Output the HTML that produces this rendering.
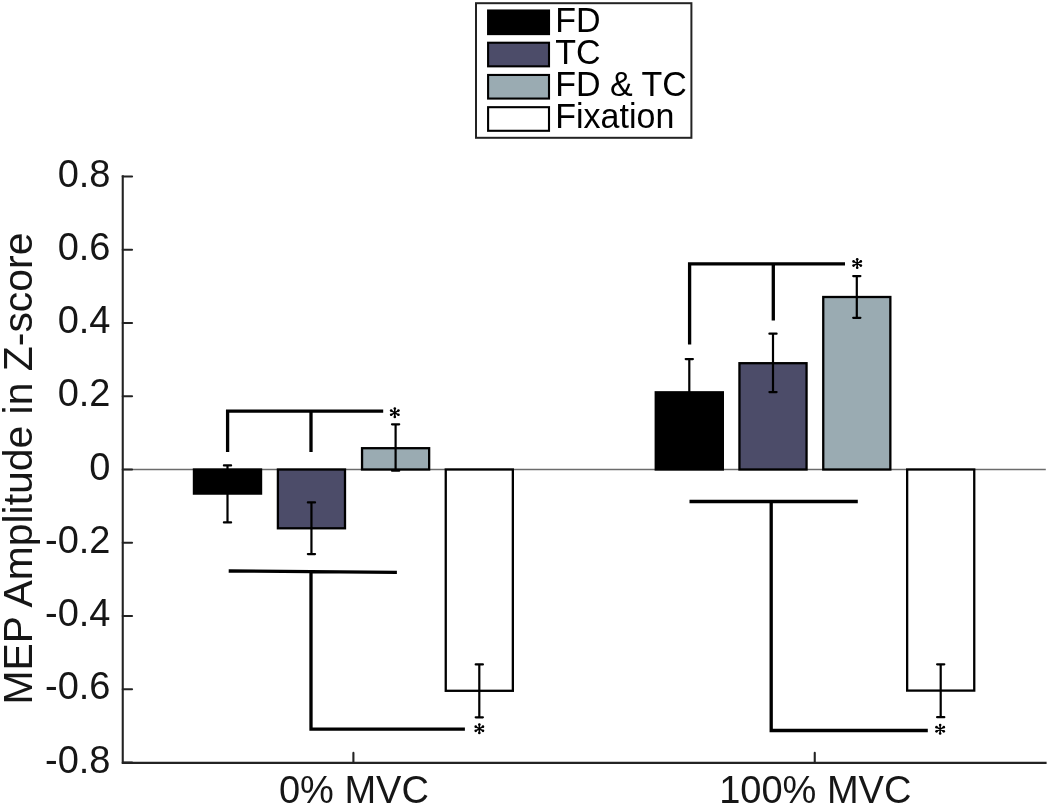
<!DOCTYPE html>
<html><head><meta charset="utf-8"><style>
html,body{margin:0;padding:0;background:#fff;width:1050px;height:806px;overflow:hidden;font-family:"Liberation Sans",sans-serif;}
</style></head><body>
<svg width="1050" height="806" viewBox="0 0 1050 806" style="position:absolute;left:0;top:0;will-change:transform">
<rect width="1050" height="806" fill="#fff"/>
<line x1="122.75" y1="469.5" x2="1045.8" y2="469.5" stroke="#6c6c6c" stroke-width="1.4"/>
<rect x="193.95" y="469.50" width="67.10" height="24.10" fill="#000000" stroke="#000" stroke-width="2.3"/>
<rect x="277.90" y="469.50" width="67.10" height="58.80" fill="#4c4c69" stroke="#000" stroke-width="2.3"/>
<rect x="362.05" y="448.20" width="67.10" height="21.30" fill="#9aabb2" stroke="#000" stroke-width="2.3"/>
<rect x="445.75" y="469.50" width="67.10" height="221.30" fill="#ffffff" stroke="#000" stroke-width="2.3"/>
<rect x="655.75" y="392.30" width="67.10" height="77.20" fill="#000000" stroke="#000" stroke-width="2.3"/>
<rect x="739.45" y="363.20" width="67.10" height="106.30" fill="#4c4c69" stroke="#000" stroke-width="2.3"/>
<rect x="823.25" y="297.00" width="67.10" height="172.50" fill="#9aabb2" stroke="#000" stroke-width="2.3"/>
<rect x="907.15" y="469.50" width="67.10" height="221.10" fill="#ffffff" stroke="#000" stroke-width="2.3"/>
<path d="M227.5 465.4 V522.4 M223.90 465.4 H231.10 M223.90 522.4 H231.10" stroke="#000" stroke-width="2.2" stroke-linecap="round" fill="none"/>
<path d="M311.45 502.4 V554.1 M307.85 502.4 H315.05 M307.85 554.1 H315.05" stroke="#000" stroke-width="2.2" stroke-linecap="round" fill="none"/>
<path d="M395.6 424.3 V470.7 M392.00 424.3 H399.20 M392.00 470.7 H399.20" stroke="#000" stroke-width="2.2" stroke-linecap="round" fill="none"/>
<path d="M479.3 664.4 V717.3 M475.70 664.4 H482.90 M475.70 717.3 H482.90" stroke="#000" stroke-width="2.2" stroke-linecap="round" fill="none"/>
<path d="M689.3 359.1 V424.0 M685.70 359.1 H692.90 M685.70 424.0 H692.90" stroke="#000" stroke-width="2.2" stroke-linecap="round" fill="none"/>
<path d="M773.0 333.7 V392.1 M769.40 333.7 H776.60 M769.40 392.1 H776.60" stroke="#000" stroke-width="2.2" stroke-linecap="round" fill="none"/>
<path d="M856.8 276.1 V317.8 M853.20 276.1 H860.40 M853.20 317.8 H860.40" stroke="#000" stroke-width="2.2" stroke-linecap="round" fill="none"/>
<path d="M940.7 664.3 V717.2 M937.10 664.3 H944.30 M937.10 717.2 H944.30" stroke="#000" stroke-width="2.2" stroke-linecap="round" fill="none"/>
<path d="M227.6 452.1 V411.1 H383.2 M311 411.1 V452.1" fill="none" stroke="#000" stroke-width="3.3" stroke-linejoin="miter" stroke-linecap="butt"/>
<path d="M228.7 571 L396.9 572.35 M311 571.7 V729.2 H464.9" fill="none" stroke="#000" stroke-width="3.3" stroke-linejoin="miter" stroke-linecap="butt"/>
<path d="M689.6 344.6 V263.8 H845 M773.3 263.8 V320.6" fill="none" stroke="#000" stroke-width="3.3" stroke-linejoin="miter" stroke-linecap="butt"/>
<path d="M689.5 501.5 H857.8 M771.2 501.5 V730.5 H927.8" fill="none" stroke="#000" stroke-width="3.3" stroke-linejoin="miter" stroke-linecap="butt"/>
<g fill="#000"><path d="M394.80 416.90 L394.80 408.50 M391.16 414.80 L398.44 410.60 M391.16 410.60 L398.44 414.80 " stroke="#000" stroke-width="1.55" stroke-linecap="round"/><circle cx="394.80" cy="408.50" r="1.3"/><circle cx="394.80" cy="416.90" r="1.3"/><circle cx="398.44" cy="410.60" r="1.3"/><circle cx="391.16" cy="414.80" r="1.3"/><circle cx="398.44" cy="414.80" r="1.3"/><circle cx="391.16" cy="410.60" r="1.3"/></g>
<g fill="#000"><path d="M479.35 732.95 L479.35 724.55 M475.71 730.85 L482.99 726.65 M475.71 726.65 L482.99 730.85 " stroke="#000" stroke-width="1.55" stroke-linecap="round"/><circle cx="479.35" cy="724.55" r="1.3"/><circle cx="479.35" cy="732.95" r="1.3"/><circle cx="482.99" cy="726.65" r="1.3"/><circle cx="475.71" cy="730.85" r="1.3"/><circle cx="482.99" cy="730.85" r="1.3"/><circle cx="475.71" cy="726.65" r="1.3"/></g>
<g fill="#000"><path d="M857.20 267.70 L857.20 259.30 M853.56 265.60 L860.84 261.40 M853.56 261.40 L860.84 265.60 " stroke="#000" stroke-width="1.55" stroke-linecap="round"/><circle cx="857.20" cy="259.30" r="1.3"/><circle cx="857.20" cy="267.70" r="1.3"/><circle cx="860.84" cy="261.40" r="1.3"/><circle cx="853.56" cy="265.60" r="1.3"/><circle cx="860.84" cy="265.60" r="1.3"/><circle cx="853.56" cy="261.40" r="1.3"/></g>
<g fill="#000"><path d="M940.15 733.45 L940.15 725.05 M936.51 731.35 L943.79 727.15 M936.51 727.15 L943.79 731.35 " stroke="#000" stroke-width="1.55" stroke-linecap="round"/><circle cx="940.15" cy="725.05" r="1.3"/><circle cx="940.15" cy="733.45" r="1.3"/><circle cx="943.79" cy="727.15" r="1.3"/><circle cx="936.51" cy="731.35" r="1.3"/><circle cx="943.79" cy="731.35" r="1.3"/><circle cx="936.51" cy="727.15" r="1.3"/></g>
<path d="M122.75 175.3 V762.85 H1046.6" fill="none" stroke="#232323" stroke-width="2.1"/>
<line x1="122.75" y1="176.46" x2="132.05" y2="176.46" stroke="#232323" stroke-width="2.1" stroke-linecap="round"/>
<text x="110.5" y="186.56" font-family="Liberation Sans" font-size="38" fill="#161616" text-anchor="end">0.8</text>
<line x1="122.75" y1="249.72" x2="132.05" y2="249.72" stroke="#232323" stroke-width="2.1" stroke-linecap="round"/>
<text x="110.5" y="259.82" font-family="Liberation Sans" font-size="38" fill="#161616" text-anchor="end">0.6</text>
<line x1="122.75" y1="322.98" x2="132.05" y2="322.98" stroke="#232323" stroke-width="2.1" stroke-linecap="round"/>
<text x="110.5" y="333.08" font-family="Liberation Sans" font-size="38" fill="#161616" text-anchor="end">0.4</text>
<line x1="122.75" y1="396.24" x2="132.05" y2="396.24" stroke="#232323" stroke-width="2.1" stroke-linecap="round"/>
<text x="110.5" y="406.34" font-family="Liberation Sans" font-size="38" fill="#161616" text-anchor="end">0.2</text>
<line x1="122.75" y1="469.50" x2="132.05" y2="469.50" stroke="#232323" stroke-width="2.1" stroke-linecap="round"/>
<text x="110.5" y="479.60" font-family="Liberation Sans" font-size="38" fill="#161616" text-anchor="end">0</text>
<line x1="122.75" y1="542.76" x2="132.05" y2="542.76" stroke="#232323" stroke-width="2.1" stroke-linecap="round"/>
<text x="110.5" y="552.86" font-family="Liberation Sans" font-size="38" fill="#161616" text-anchor="end">-0.2</text>
<line x1="122.75" y1="616.02" x2="132.05" y2="616.02" stroke="#232323" stroke-width="2.1" stroke-linecap="round"/>
<text x="110.5" y="626.12" font-family="Liberation Sans" font-size="38" fill="#161616" text-anchor="end">-0.4</text>
<line x1="122.75" y1="689.28" x2="132.05" y2="689.28" stroke="#232323" stroke-width="2.1" stroke-linecap="round"/>
<text x="110.5" y="699.38" font-family="Liberation Sans" font-size="38" fill="#161616" text-anchor="end">-0.6</text>
<line x1="122.75" y1="762.54" x2="132.05" y2="762.54" stroke="#232323" stroke-width="2.1" stroke-linecap="round"/>
<text x="110.5" y="772.64" font-family="Liberation Sans" font-size="38" fill="#161616" text-anchor="end">-0.8</text>
<line x1="353.4" y1="762.85" x2="353.4" y2="752.9" stroke="#232323" stroke-width="2.1" stroke-linecap="round"/>
<text x="353.9" y="802.5" font-family="Liberation Sans" font-size="38" fill="#161616" text-anchor="middle">0% MVC</text>
<line x1="814.75" y1="762.85" x2="814.75" y2="752.9" stroke="#232323" stroke-width="2.1" stroke-linecap="round"/>
<text x="815.25" y="802.5" font-family="Liberation Sans" font-size="38" fill="#161616" text-anchor="middle">100% MVC</text>
<text transform="translate(32.3 468.6) rotate(-90)" font-family="Liberation Sans" font-size="40.9" fill="#161616" text-anchor="middle">MEP Amplitude in Z-score</text>
<rect x="476" y="3.2" width="215.4" height="134.6" fill="#fff" stroke="#232323" stroke-width="2"/>
<rect x="488.1" y="10.50" width="60.9" height="23.6" fill="#000000" stroke="#000" stroke-width="2.1"/>
<text transform="translate(555.3 31.70) scale(1 1.048)" font-family="Liberation Sans" font-size="34" fill="#000">FD</text>
<rect x="488.1" y="42.73" width="60.9" height="23.6" fill="#4c4c69" stroke="#000" stroke-width="2.1"/>
<text transform="translate(555.3 63.77) scale(1 1.048)" font-family="Liberation Sans" font-size="34" fill="#000">TC</text>
<rect x="488.1" y="74.96" width="60.9" height="23.6" fill="#9aabb2" stroke="#000" stroke-width="2.1"/>
<text transform="translate(555.3 95.84) scale(1 1.048)" font-family="Liberation Sans" font-size="34" fill="#000">FD &amp; TC</text>
<rect x="488.1" y="107.19" width="60.9" height="23.6" fill="#ffffff" stroke="#000" stroke-width="2.1"/>
<text transform="translate(555.3 127.91) scale(1 1.048)" font-family="Liberation Sans" font-size="34" fill="#000">Fixation</text>
</svg>
</body></html>
